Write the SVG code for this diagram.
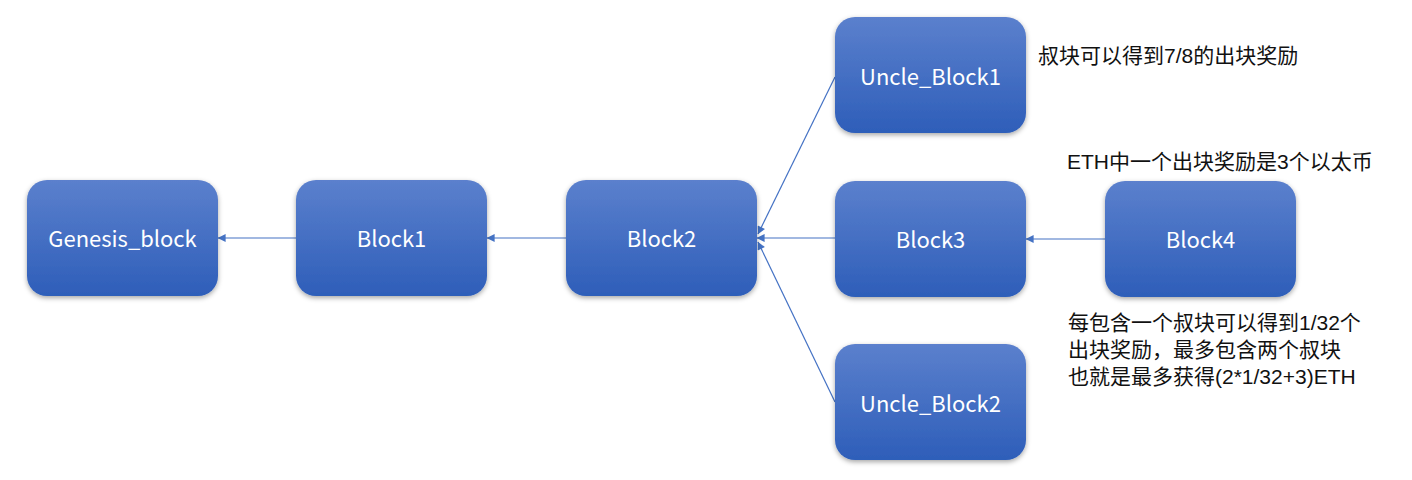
<svg xmlns="http://www.w3.org/2000/svg" width="1412" height="480" viewBox="0 0 1412 480">
<style>
.node rect{fill:url(#g);filter:url(#sh)}
.node text{fill:#fff;font-family:"Noto Sans CJK SC","Liberation Sans",sans-serif;font-size:22px;text-anchor:middle;dominant-baseline:central}
.note{fill:#111;font-family:"Liberation Sans","Noto Sans CJK SC",sans-serif;font-size:21px}
#edges line{stroke:#4472c4;stroke-width:1.2;marker-end:url(#ah)}
</style>
<defs>
<linearGradient id="g" x1="0" y1="0" x2="0" y2="1">
<stop offset="0" stop-color="#5b80cd"/>
<stop offset="1" stop-color="#2e5eb9"/>
</linearGradient>
<filter id="sh" x="-20%" y="-20%" width="140%" height="150%">
<feDropShadow dx="0" dy="2" stdDeviation="2.5" flood-color="#000" flood-opacity="0.35"/>
</filter>
<marker id="ah" viewBox="0 0 10 10" refX="9.5" refY="5" markerWidth="10" markerHeight="8" markerUnits="userSpaceOnUse" orient="auto">
<path d="M0,0 L10,5 L0,10 z" fill="#4472c4"/>
</marker>
</defs>
<g id="edges">
<line x1="296" y1="238" x2="218" y2="238"/>
<line x1="566" y1="238" x2="487" y2="238"/>
<line x1="835" y1="238" x2="757" y2="238"/>
<line x1="835" y1="77" x2="758" y2="234"/>
<line x1="835" y1="402" x2="758" y2="242"/>
<line x1="1105" y1="239" x2="1026" y2="239"/>
</g>
<g id="genesis" class="node"><rect x="27" y="180" width="191" height="116" rx="20"/><text x="122.5" y="237">Genesis_block</text></g>
<g id="block1" class="node"><rect x="296" y="180" width="191" height="116" rx="20"/><text x="391.5" y="237">Block1</text></g>
<g id="block2" class="node"><rect x="566" y="180" width="191" height="116" rx="20"/><text x="661.5" y="237">Block2</text></g>
<g id="block3" class="node"><rect x="835" y="181" width="191" height="116" rx="20"/><text x="930.5" y="238">Block3</text></g>
<g id="block4" class="node"><rect x="1105" y="181" width="191" height="116" rx="20"/><text x="1200.5" y="238">Block4</text></g>
<g id="uncle1" class="node"><rect x="835" y="17" width="191" height="116" rx="20"/><text x="930.5" y="75">Uncle_Block1</text></g>
<g id="uncle2" class="node"><rect x="835" y="344" width="191" height="116" rx="20"/><text x="930.5" y="402">Uncle_Block2</text></g>
<g id="notes">
<text class="note" x="1038" y="63">叔块可以得到7/8的出块奖励</text>
<text class="note" x="1067" y="169">ETH中一个出块奖励是3个以太币</text>
<text class="note" x="1068" y="330"><tspan x="1068" y="330">每包含一个叔块可以得到1/32个</tspan><tspan x="1068" y="357">出块奖励，最多包含两个叔块</tspan><tspan x="1068" y="384">也就是最多获得(2*1/32+3)ETH</tspan></text>
</g>
</svg>
